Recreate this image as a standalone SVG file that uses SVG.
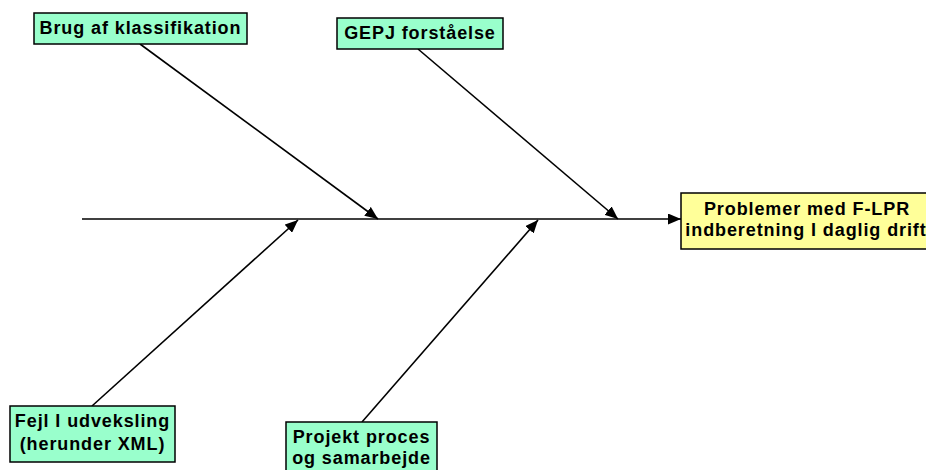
<svg xmlns="http://www.w3.org/2000/svg" width="926" height="470" viewBox="0 0 926 470">
<style>
.g{fill:#99FFCC;stroke:#000;stroke-width:1.5}
.y{fill:#FFFF99;stroke:#000;stroke-width:1.5}
.t{font-family:"Liberation Sans",Arial,sans-serif;font-weight:bold;font-size:18px;letter-spacing:0.9px;fill:#000;text-anchor:middle}
.c{stroke:#000;stroke-width:1.6;fill:none}
</style>
<defs>
<marker id="a" markerWidth="13" markerHeight="11" refX="13" refY="5.5" orient="auto" markerUnits="userSpaceOnUse">
<path d="M0,0 L13,5.5 L0,11 Z" fill="#000"/>
</marker>
</defs>
<rect width="926" height="470" fill="#fff"/>
<g id="connectors">
<line class="c" x1="82" y1="219" x2="681" y2="219" marker-end="url(#a)"/>
<line class="c" x1="140" y1="44" x2="378" y2="219" marker-end="url(#a)"/>
<line class="c" x1="418" y1="49" x2="618" y2="219" marker-end="url(#a)"/>
<line class="c" x1="92" y1="406" x2="298" y2="220" marker-end="url(#a)"/>
<line class="c" x1="362" y1="422" x2="538" y2="220" marker-end="url(#a)"/>
</g>
<g id="n1"><rect class="g" x="34" y="13" width="213" height="31"/><text class="t" x="140.5" y="34">Brug af klassifikation</text></g>
<g id="n2"><rect class="g" x="337" y="18" width="166" height="31"/><text class="t" x="420" y="39">GEPJ forståelse</text></g>
<g id="n3"><rect class="y" x="681" y="193" width="250" height="56"/><text class="t" x="807" y="215">Problemer med F-LPR</text><text class="t" x="806" y="236">indberetning I daglig drift</text></g>
<g id="n4"><rect class="g" x="10" y="406" width="165" height="56"/><text class="t" x="92.5" y="427">Fejl I udveksling</text><text class="t" x="92.5" y="450">(herunder XML)</text></g>
<g id="n5"><rect class="g" x="286" y="422" width="151" height="56"/><text class="t" x="361.5" y="443">Projekt proces</text><text class="t" x="361.5" y="464">og samarbejde</text></g>
</svg>
